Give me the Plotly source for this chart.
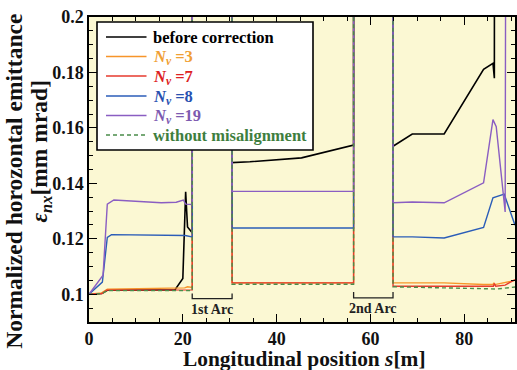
import plotly.graph_objects as go

# ---- data ----
HI = 0.3  # value above the visible range inside the arcs

s_black = [0, 2.7, 4.0, 10, 18.3, 20.0, 20.6, 21.0, 21.9, 22.0, 22.0, 30.5, 30.5, 34.3, 45.3, 56.4, 56.4,
           64.8, 64.8, 68.9, 75.7, 84.1, 86.1, 86.4, 86.45, 90.8]
v_black = [0.1, 0.1003, 0.1015, 0.1015, 0.1016, 0.1057, 0.137, 0.1243, 0.1225, 0.1222, HI, HI, 0.1475, 0.1478,
           0.1492, 0.1538, HI, HI, 0.1534, 0.1578, 0.1578, 0.1811, 0.1833, 0.1779, HI, HI]

s_n3 = [0, 2.7, 3.9, 10, 18.0, 20.4, 21.0, 22.0, 22.0, 30.5, 30.5, 56.4, 56.4,
        64.8, 64.8, 75.7, 84.1, 86.1, 86.3, 86.5, 90.8]
v_n3 = [0.1, 0.1005, 0.1018, 0.1019, 0.102, 0.1023, 0.1027, 0.1025, HI, HI, 0.1041, 0.1041, HI,
        HI, 0.1041, 0.1041, 0.1035, 0.1035, 0.1041, 0.1035, 0.1050]

s_n7 = [0, 2.8, 3.8, 10, 22.0, 22.0, 30.5, 30.5, 56.4, 56.4,
        64.8, 64.8, 75.7, 84.1, 86.2, 86.4, 86.7, 88.7, 90.8]
v_n7 = [0.1, 0.1003, 0.1015, 0.1016, 0.1016, HI, HI, 0.1041, 0.1041, HI,
        HI, 0.1029, 0.1028, 0.1027, 0.1029, 0.1039, 0.1029, 0.1033, 0.1053]

s_n8 = [0, 2.85, 3.9, 4.8, 20.5, 22.0, 22.0, 30.5, 30.5, 56.4, 56.4,
        64.8, 64.8, 68.9, 75.7, 84.1, 86.1, 88.5, 90.8]
v_n8 = [0.1, 0.1044, 0.1205, 0.1215, 0.1212, 0.1207, HI, HI, 0.1239, 0.1239, HI,
        HI, 0.1207, 0.1207, 0.1203, 0.1241, 0.1348, 0.1361, 0.1249]

s_n19 = [0, 3.0, 3.9, 5.3, 15.4, 18.6, 20.1, 20.6, 22.0, 22.0, 30.5, 30.5, 56.4, 56.4,
         64.8, 64.8, 68.9, 75.7, 84.1, 86.1, 86.8, 88.7, 88.9, 90.8]
v_n19 = [0.1, 0.1069, 0.1325, 0.134, 0.133, 0.1332, 0.134, 0.1325, 0.1324, HI, HI, 0.1371, 0.1371, HI,
         HI, 0.133, 0.1333, 0.133, 0.1402, 0.163, 0.1604, 0.1297, HI, HI]

s_ideal = [0, 2.8, 3.8, 10, 22.0, 22.0, 30.5, 30.5, 56.4, 56.4,
           64.8, 64.8, 84.1, 87.0, 90.8]
v_ideal = [0.1, 0.1002, 0.1013, 0.1013, 0.1013, HI, HI, 0.1036, 0.1036, HI,
           HI, 0.1027, 0.1019, 0.1019, 0.1026]

arc_start = [22.0, 56.4]
arc_end = [30.5, 64.8]
arc_label = ["1st Arc", "2nd Arc"]
arc_top = [0.1003, 0.1008]
arc_bot = [0.0984, 0.0987]

x_range = [0, 90.8]
y_range = [0.09, 0.2]
y_tickvals = [0.1, 0.12, 0.14, 0.16, 0.18, 0.2]
y_ticktext = ["0.1", "0.12", "0.14", "0.16", "0.18", "0.2"]
x_tickvals = [0, 20, 40, 60, 80]
x_ticktext = ["0", "20", "40", "60", "80"]

FONT = "Liberation Serif, Times New Roman, serif"

series = [
    ("before correction", s_black, v_black, "#000000", "#000000", "solid", 1.6),
    ("<i>N<sub>v</sub></i> =3", s_n3, v_n3, "#F7952A", "#F0A035", "solid", 1.4),
    ("<i>N<sub>v</sub></i> =7", s_n7, v_n7, "#E63A2E", "#DD2222", "solid", 1.4),
    ("<i>N<sub>v</sub></i> =8", s_n8, v_n8, "#2B5DB8", "#2850B0", "solid", 1.4),
    ("<i>N<sub>v</sub></i> =19", s_n19, v_n19, "#8A5EC2", "#7D5AB0", "solid", 1.4),
    ("without misalignment", s_ideal, v_ideal, "#4A8C4A", "#3E7E3E", "dash", 1.4),
]

fig = go.Figure()
for name, s, v, lc, tc, dash, w in series:
    fig.add_trace(go.Scatter(
        x=s, y=v, mode="lines", showlegend=False,
        line=dict(color=lc, width=w, dash=("4px,3px" if dash == "dash" else "solid")),
        name=name,
    ))

shapes = []
annotations = []
for a0, a1, lab, yt, yb in zip(arc_start, arc_end, arc_label, arc_top, arc_bot):
    shapes.append(dict(type="path", xref="x", yref="y",
                       path=f"M {a0},{yt} L {a0},{yb} L {a1},{yb} L {a1},{yt}",
                       line=dict(color="#222222", width=1.3)))
    annotations.append(dict(x=(a0 + a1) / 2, y=yb, xref="x", yref="y", yanchor="top",
                            yshift=-1, text=f"<b>{lab}</b>", showarrow=False,
                            font=dict(family=FONT, size=14, color="#222222")))

# ---- legend box drawn in paper coordinates ----
PLOT_W, PLOT_H = 426, 305
def px(xpix):  # pixel from plot left -> paper
    return xpix / PLOT_W
def py(ypix):  # pixel from plot top -> paper
    return 1 - ypix / PLOT_H

shapes.append(dict(type="rect", xref="paper", yref="paper",
                   x0=px(8), x1=px(224), y0=py(133), y1=py(5),
                   fillcolor="#FFFFFF", line=dict(color="#000000", width=1.6), layer="above"))
row_y = [20.5, 40, 59.5, 79.5, 99, 118.5]
for (name, s, v, lc, tc, dash, w), ry in zip(series, row_y):
    shapes.append(dict(type="line", xref="paper", yref="paper",
                       x0=px(17), x1=px(57.5), y0=py(ry - 0.5), y1=py(ry - 0.5),
                       line=dict(color=lc, width=w, dash=("4px,3px" if dash == "dash" else "solid")),
                       layer="above"))
    annotations.append(dict(x=px(62), y=py(ry), xref="paper", yref="paper",
                            xanchor="left", yanchor="middle", showarrow=False,
                            text=f"<b>{name}</b>",
                            font=dict(family=FONT, size=16.5, color=tc)))

# axis titles
annotations.append(dict(x=0.505, y=-0.121, xref="paper", yref="paper", xanchor="center", yanchor="middle",
                        text="<b>Longitudinal position <i>s</i>[m]</b>", showarrow=False,
                        font=dict(family=FONT, size=21.4, color="#111111")))
annotations.append(dict(x=-0.177, y=0.462, xref="paper", yref="paper", xanchor="center", yanchor="middle",
                        text="<b>Normalized horozontal emittance</b>", textangle=-90, showarrow=False,
                        font=dict(family=FONT, size=23.5, color="#111111")))
annotations.append(dict(x=-0.1135, y=0.561, xref="paper", yref="paper", xanchor="center", yanchor="middle",
                        text="<b><i>ε<sub>nx</sub></i>[mm mrad]</b>", textangle=-90, showarrow=False,
                        font=dict(family=FONT, size=23.5, color="#111111")))

axis_common = dict(
    showline=True, linecolor="#000000", linewidth=1.5, mirror="ticks",
    ticks="inside", ticklen=8, tickwidth=1.2, tickcolor="#000000",
    showgrid=False, zeroline=False, automargin=False, ticklabeloverflow="allow",
    tickfont=dict(family=FONT, size=18, color="#111111", weight="bold"),
)

fig.update_layout(
    width=517, height=370,
    margin=dict(l=89, r=2, t=17, b=48, autoexpand=False),
    paper_bgcolor="#FFFFFF",
    plot_bgcolor="#FBF8D3",
    showlegend=False,
    shapes=shapes,
    annotations=annotations,
)
fig.update_xaxes(range=x_range, tickmode="array", tickvals=x_tickvals, ticktext=x_ticktext,
                 ticklabelstandoff=0,
                 minor=dict(dtick=5, tick0=0, ticks="inside", ticklen=4, tickcolor="#000000"),
                 **axis_common)
fig.update_yaxes(range=y_range, tickmode="array", tickvals=y_tickvals, ticktext=y_ticktext,
                 minor=dict(dtick=0.005, tick0=0.09, ticks="inside", ticklen=4, tickcolor="#000000"),
                 **axis_common)

# remove the default 8px page margin so the figure sits at the window's top-left corner
fig.write_html("out.html", config={"displayModeBar": False},
               post_script="document.body.style.margin='0px';")
